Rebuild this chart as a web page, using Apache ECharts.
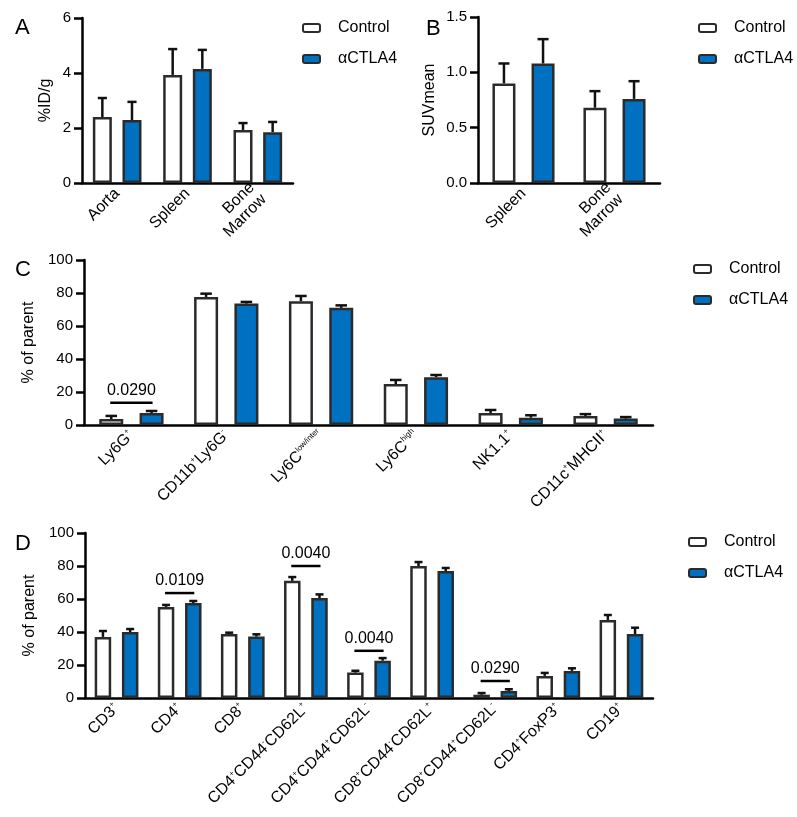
<!DOCTYPE html>
<html>
<head>
<meta charset="utf-8">
<script src="https://cdn.jsdelivr.net/npm/echarts@6/dist/echarts.min.js"></script>
<style>html,body{margin:0;padding:0;background:#fff}#c{width:797px;height:817px}</style>
</head>
<body>
<div id="c"></div>
<script>
// ---------------- DATA ----------------
// Panel A (%ID/g)
const catA = ['Aorta', 'Spleen', 'Bone\nMarrow'];
const ctrlA = [2.40, 3.93, 1.93];
const ctrlA_sd = [0.69, 0.94, 0.25];
const ctlaA = [2.29, 4.15, 1.85];
const ctlaA_sd = [0.66, 0.69, 0.37];
const ticksA = [0, 2, 4, 6];

// Panel B (SUVmean)
const catB = ['Spleen', 'Bone\nMarrow'];
const ctrlB = [0.90, 0.68];
const ctrlB_sd = [0.18, 0.15];
const ctlaB = [1.08, 0.76];
const ctlaB_sd = [0.22, 0.16];
const ticksB = [0.0, 0.5, 1.0, 1.5];

// Panel C (% of parent) — ^{..} marks superscript
const catC = ['Ly6G^{+}', 'CD11b^{+}Ly6G^{-}', 'Ly6C^{low/inter}', 'Ly6C^{high}', 'NK1.1^{+}', 'CD11c^{+}MHCII^{+}'];
const ctrlC = [3.6, 77.6, 75.0, 24.8, 7.2, 5.4];
const ctrlC_sd = [1.9, 2.0, 3.2, 2.5, 1.9, 1.2];
const ctlaC = [7.3, 73.6, 71.0, 29.0, 4.4, 3.9];
const ctlaC_sd = [1.2, 1.0, 1.5, 1.3, 1.5, 0.9];
const sigC = [[0, 13.5, '0.0290']];

// Panel D (% of parent)
const catD = ['CD3^{+}', 'CD4^{+}', 'CD8^{+}', 'CD4^{+}CD44^{-}CD62L^{+}', 'CD4^{+}CD44^{+}CD62L^{-}',
              'CD8^{+}CD44^{-}CD62L^{+}', 'CD8^{+}CD44^{+}CD62L^{-}', 'CD4^{+}FoxP3^{+}', 'CD19^{+}'];
const ctrlD = [37.0, 55.2, 38.8, 71.0, 15.4, 80.0, 2.0, 13.4, 47.3];
const ctrlD_sd = [3.6, 1.2, 0.8, 2.3, 1.1, 2.4, 1.0, 1.8, 3.0];
const ctlaD = [40.0, 57.6, 37.2, 60.6, 22.6, 77.0, 4.2, 16.4, 38.8];
const ctlaD_sd = [1.8, 1.2, 1.4, 2.2, 1.6, 1.8, 1.1, 1.6, 3.8];
const sigD = [[1, 63.6, '0.0109'], [3, 80.0, '0.0040'], [4, 28.6, '0.0040'], [6, 10.3, '0.0290']];
const ticksPct = [0, 20, 40, 60, 80, 100];

const seriesNames = ['Control', 'αCTLA4'];

// ---------------- STYLE ----------------
const FONT = '"Liberation Sans", Arial, Helvetica, sans-serif';
const BLUE = '#0070C0';
const EDGE = '#2b2b2b';
const INK = '#000000';

const chart = echarts.init(document.getElementById('c'), null, {renderer: 'canvas'});

const grids = [], xAxes = [], yAxes = [], series = [], legends = [], titles = [];

function fmtSup(v) {
  return v.replace(/\^\{([^}]*)\}/g, '{s|$1}');
}

function panel(o) {
  const gi = grids.length;
  grids.push({left: o.left, top: o.top, width: o.width, height: o.height, containLabel: false});
  xAxes.push({
    type: 'category', gridIndex: gi, data: o.cats,
    axisLine: {lineStyle: {color: INK, width: 2.5}},
    axisTick: {show: false},
    axisLabel: {
      interval: 0, rotate: 45, margin: 8, color: INK, fontFamily: FONT, fontSize: 16,
      lineHeight: 17,
      formatter: fmtSup,
      rich: {s: {fontSize: 8, fontFamily: FONT, color: INK, verticalAlign: 'top', lineHeight: 9}}
    }
  });
  const t = o.ticks;
  yAxes.push({
    type: 'value', gridIndex: gi, min: t[0], max: t[t.length - 1], interval: t[1] - t[0],
    name: o.yName, nameLocation: 'middle', nameGap: o.nameGap, nameRotate: 90,
    nameTextStyle: {fontFamily: FONT, fontSize: 16, color: INK},
    axisLine: {show: true, lineStyle: {color: INK, width: 2.5}},
    axisTick: {show: true, length: 8, lineStyle: {color: INK, width: 2.5}},
    splitLine: {show: false},
    axisLabel: {color: INK, fontFamily: FONT, fontSize: 15, margin: 11,
      formatter: o.decimals ? (v => v.toFixed(o.decimals)) : null}
  });
  const off = o.barW * (1 + o.gap) / 2;
  const cap = Math.max(4, o.barW * 0.24);
  const styles = [
    {color: '#ffffff', borderColor: EDGE, borderWidth: 2.5},
    {color: BLUE, borderColor: EDGE, borderWidth: 2.5}
  ];
  const vals = [o.ctrl, o.ctla];
  const sds = [o.ctrlSd, o.ctlaSd];
  [0, 1].forEach(k => {
    series.push({
      type: 'bar', name: seriesNames[k], xAxisIndex: gi, yAxisIndex: gi,
      data: vals[k], barWidth: o.barW, barGap: (o.gap * 100) + '%',
      itemStyle: styles[k], emphasis: {disabled: true}, z: 2
    });
  });
  [0, 1].forEach(k => {
    const sign = k === 0 ? -1 : 1;
    series.push({
      type: 'custom', xAxisIndex: gi, yAxisIndex: gi, z: 3, silent: true,
      data: vals[k].map((v, i) => [i, v, sds[k][i]]),
      encode: {x: 0, y: 1},
      renderItem: function (params, api) {
        const i = api.value(0), m = api.value(1), s = api.value(2);
        const p0 = api.coord([i, m]);
        const p1 = api.coord([i, m + s]);
        const x = p0[0] + sign * off;
        const st = {stroke: '#111', lineWidth: 2.5};
        return {type: 'group', children: [
          {type: 'line', shape: {x1: x, y1: p0[1], x2: x, y2: p1[1]}, style: st},
          {type: 'line', shape: {x1: x - cap, y1: p1[1], x2: x + cap, y2: p1[1]}, style: st}
        ]};
      }
    });
  });
  if (o.sig && o.sig.length) {
    const sig = o.sig;
    series.push({
      type: 'custom', xAxisIndex: gi, yAxisIndex: gi, z: 4, silent: true,
      data: sig.map(d => [d[0], d[1]]),
      encode: {x: 0, y: 1},
      renderItem: function (params, api) {
        const p = api.coord([api.value(0), api.value(1)]);
        const txt = sig[params.dataIndex][2];
        return {type: 'group', children: [
          {type: 'line', shape: {x1: p[0] - off - 1, y1: p[1], x2: p[0] + off + 1, y2: p[1]},
           style: {stroke: INK, lineWidth: 2.5}},
          {type: 'text', x: p[0], y: p[1] - 4,
           style: {text: txt, fill: INK, font: '16px ' + FONT, textAlign: 'center', textVerticalAlign: 'bottom'}}
        ]};
      }
    });
  }
  legends.push({
    left: o.legLeft, top: o.legTop, orient: 'vertical', data: seriesNames,
    itemWidth: 17, itemHeight: 8, itemGap: 13, selectedMode: false,
    textStyle: {fontFamily: FONT, fontSize: 16, color: INK, lineHeight: 18, padding: [0, 0, 0, 13]}
  });
  titles.push({text: o.letter, left: o.letterLeft, top: o.letterTop,
    textStyle: {fontFamily: FONT, fontSize: 22, fontWeight: 'normal', color: INK}});
}

panel({letter: 'A', letterLeft: 10, letterTop: 12,
  left: 82, top: 18, width: 211, height: 165, cats: catA,
  ctrl: ctrlA, ctrlSd: ctrlA_sd, ctla: ctlaA, ctlaSd: ctlaA_sd, ticks: ticksA,
  yName: '%ID/g', nameGap: 28, barW: 19, gap: 0.56, legLeft: 297, legTop: 14});

panel({letter: 'B', letterLeft: 421, letterTop: 13,
  left: 478, top: 17, width: 182, height: 166, cats: catB,
  ctrl: ctrlB, ctrlSd: ctrlB_sd, ctla: ctlaB, ctlaSd: ctlaB_sd, ticks: ticksB, decimals: 1,
  yName: 'SUVmean', nameGap: 40, barW: 23, gap: 0.7, legLeft: 693, legTop: 14});

panel({letter: 'C', letterLeft: 10, letterTop: 254,
  left: 84, top: 260, width: 569, height: 165, cats: catC,
  ctrl: ctrlC, ctrlSd: ctrlC_sd, ctla: ctlaC, ctlaSd: ctlaC_sd, ticks: ticksPct, sig: sigC,
  yName: '% of parent', nameGap: 46, barW: 24, gap: 0.68, legLeft: 688, legTop: 255});

panel({letter: 'D', letterLeft: 10, letterTop: 528,
  left: 85, top: 533, width: 568, height: 165, cats: catD,
  ctrl: ctrlD, ctrlSd: ctrlD_sd, ctla: ctlaD, ctlaSd: ctlaD_sd, ticks: ticksPct, sig: sigD,
  yName: '% of parent', nameGap: 46, barW: 16.5, gap: 0.65, legLeft: 683, legTop: 528});

chart.setOption({
  animation: false,
  backgroundColor: '#ffffff',
  textStyle: {fontFamily: FONT},
  title: titles, grid: grids, xAxis: xAxes, yAxis: yAxes, legend: legends, series: series
});
</script>
</body>
</html>
